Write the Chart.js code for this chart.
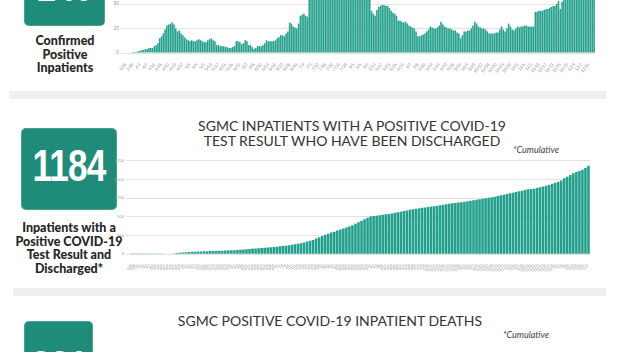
<!DOCTYPE html>
<html>
<head>
<meta charset="utf-8">
<script src="https://cdn.jsdelivr.net/npm/chart.js@4.4.1/dist/chart.umd.min.js"></script>
<style>
  html, body { margin: 0; padding: 0; background: #fff; }
  body { position: relative; width: 622px; height: 352px; overflow: hidden; font-family: 'Lato', 'Noto Sans', sans-serif; }
  .box { position: absolute; background: #1f8b79; border-radius: 5px; box-shadow: inset 0 0 0 1px rgba(255,255,255,.2); overflow: hidden; }
  .num { position: absolute; left: 0; right: 0; text-align: center; color: #fff; font-family: 'Liberation Sans Narrow', 'Liberation Sans', sans-serif; font-weight: 700; font-size: 44px; line-height: 44px; letter-spacing: -1px; transform: scaleX(0.8); }
  .lbl { position: absolute; text-align: center; font-weight: 900; color: #262626; font-size: 12.5px; line-height: 13.7px; }
  .title { position: absolute; text-align: center; color: #333; font-size: 14px; line-height: 15px; white-space: nowrap; }
  .cum { position: absolute; font-style: italic; color: #444; font-size: 9px; white-space: nowrap; }
  .divider { position: absolute; background: #efefef; height: 8px; }
  canvas { position: absolute; }
</style>
</head>
<body>

<!-- top panel (cut off) -->
<div class="box" style="left:24px; top:-60px; width:81px; height:86px;">
  <div class="num" style="top:23.5px;">140</div>
</div>
<div class="lbl" style="left:5px; width:120px; top:34px;">Confirmed<br>Positive<br>Inpatients</div>
<canvas id="topChart" width="510" height="125" style="left:100px; top:-50px;"></canvas>

<div class="divider" style="left:9px; top:91px; width:597px;"></div>

<!-- discharged panel -->
<div class="title" style="left:152px; width:400px; top:118px;">SGMC INPATIENTS WITH A POSITIVE COVID-19<br>TEST RESULT WHO HAVE BEEN DISCHARGED</div>
<div class="cum" style="left:513px; top:144px;">*Cumulative</div>
<div class="box" style="left:21px; top:128px; width:96px; height:82px;">
  <div class="num" style="top:16px;">1184</div>
</div>
<div class="lbl" style="left:9px; width:120px; top:221px;">Inpatients with a<br>Positive COVID-19<br>Test Result and<br>Discharged*</div>
<canvas id="midChart" width="500" height="122" style="left:100px; top:150px;"></canvas>

<div class="divider" style="left:13px; top:288px; width:593px;"></div>

<!-- deaths panel (cut off) -->
<div class="title" style="left:130px; width:400px; top:313px;">SGMC POSITIVE COVID-19 INPATIENT DEATHS</div>
<div class="cum" style="left:503px; top:329px;">*Cumulative</div>
<div class="box" style="left:24px; top:321px; width:69px; height:80px;">
  <div class="num" style="top:23.5px;">221</div>
</div>

<script>
const TOP_START = '2020-03-26';
const MID_START = '2020-03-26';

// daily confirmed positive inpatients (values above ~53 are cut off in the picture)
const topCounts = [
  0, 0, 0, 0, 1, 1, 1, 2, 2, 3,
  3, 4, 4, 5, 5, 5, 7, 8, 10, 15,
  17, 20, 24, 28, 29, 30, 31, 29, 25, 22,
  23, 20, 18, 16, 14, 13, 12, 13, 12, 12,
  13, 14, 13, 12, 11, 11, 13, 14, 15, 13,
  12, 8, 8, 7, 7, 7, 6, 6, 5, 5,
  6, 7, 12, 12, 11, 9, 10, 13, 12, 8,
  8, 6, 4, 5, 7, 7, 7, 8, 10, 13,
  12, 12, 12, 12, 13, 15, 16, 18, 18, 17,
  20, 22, 31, 30, 27, 26, 25, 30, 38, 39,
  40, 38, 37, 55, 62, 66, 70, 72, 75, 78,
  80, 82, 85, 84, 86, 88, 90, 88, 87, 85,
  83, 82, 80, 78, 76, 74, 72, 70, 68, 66,
  64, 62, 60, 58, 56, 58, 56, 55, 43, 40,
  38, 44, 47, 48, 49, 49, 48, 48, 46, 43,
  41, 40, 38, 33, 33, 32, 31, 32, 30, 28,
  27, 26, 25, 22, 17, 17, 18, 19, 20, 22,
  24, 27, 26, 25, 25, 26, 28, 32, 29, 27,
  26, 25, 25, 24, 23, 23, 21, 20, 15, 18,
  22, 22, 23, 23, 25, 28, 32, 30, 27, 26,
  25, 25, 24, 22, 20, 20, 20, 20, 21, 21,
  24, 27, 24, 22, 25, 30, 27, 24, 23, 25,
  27, 26, 27, 27, 28, 28, 27, 27, 27, 27,
  42, 42, 43, 43, 43, 44, 45, 45, 46, 47,
  48, 48, 50, 53, 45, 52, 56, 58, 60, 62,
  64, 66, 68, 70, 72, 74, 76, 78, 80, 82, 84, 86, 88, 90
];

// cumulative discharged inpatients
const midCumulative = [
  1, 1, 1, 2, 2, 2, 3, 3, 4, 5,
  5, 6, 7, 9, 12, 16, 22, 25, 28, 31,
  33, 35, 37, 38, 40, 41, 43, 44, 46, 47,
  49, 50, 52, 53, 55, 58, 61, 64, 68, 72,
  76, 79, 82, 85, 88, 91, 94, 98, 102, 106,
  110, 115, 120, 127, 134, 140, 147, 158, 170, 181,
  192, 210, 228, 245, 260, 275, 290, 303, 318, 332,
  345, 358, 370, 390, 410, 428, 445, 468, 488, 504,
  512, 517, 523, 528, 534, 539, 547, 555, 562, 570,
  578, 586, 594, 602, 608, 614, 621, 627, 633, 639,
  644, 650, 655, 662, 669, 676, 682, 687, 692, 697,
  703, 708, 715, 722, 728, 735, 742, 749, 757, 764,
  771, 779, 788, 797, 806, 815, 824, 833, 842, 851,
  860, 869, 874, 878, 888, 898, 908, 918, 927, 942,
  956, 970, 985, 1016, 1038, 1060, 1083, 1100, 1115, 1130,
  1155, 1184
];

const topYMax = 100, topYStep = 25;
const midYMax = 1250, midYStep = 250;

const BAR = '#23a08b';
const GRID = '#e2e2e2';
const TICK = '#9a9a9a';

function dayLabels(start, count, step) {
  const out = [];
  const d = new Date(start + 'T00:00:00');
  for (let i = 0; i < count; i++) {
    out.push((d.getMonth() + 1) + '/' + d.getDate());
    d.setDate(d.getDate() + step);
  }
  return out;
}

function barChart(id, labels, data, o) {
  return new Chart(document.getElementById(id), {
    type: 'bar',
    data: {
      labels: labels,
      datasets: [{ data: data, backgroundColor: BAR, barPercentage: 0.86, categoryPercentage: 1 }],
    },
    options: {
      responsive: false,
      animation: false,
      layout: { padding: o.padding },
      plugins: { legend: { display: false }, tooltip: { enabled: false } },
      scales: {
        x: {
          grid: { display: false },
          border: { display: false },
          ticks: {
            color: TICK,
            font: { size: o.xFont },
            autoSkip: false,
            minRotation: 50,
            maxRotation: 50,
            padding: 1,
            callback: function (v, i) { return i % o.every === 0 ? this.getLabelForValue(v) : null; },
          },
          afterFit: (s) => { s.height = o.xHeight; s.paddingLeft = 0; s.paddingRight = 0; },
        },
        y: {
          min: 0,
          max: o.max,
          grid: { color: GRID, tickLength: 4 },
          border: { display: false },
          ticks: { stepSize: o.step, color: TICK, font: { size: o.yFont }, padding: 2 },
          afterFit: (s) => { s.width = o.yWidth; },
        },
      },
    },
  });
}

barChart('topChart', dayLabels(TOP_START, topCounts.length, 1), topCounts, {
  padding: { top: 3, right: 15, bottom: 0, left: 0 },
  max: topYMax, step: topYStep, xFont: 4.5, yFont: 5, xHeight: 22, yWidth: 25, every: 4,
});

barChart('midChart', dayLabels(MID_START, midCumulative.length, 2), midCumulative, {
  padding: { top: 10.8, right: 10, bottom: 0, left: 0 },
  max: midYMax, step: midYStep, xFont: 3.5, yFont: 4, xHeight: 17.7, yWidth: 30, every: 1,
});
</script>
</body>
</html>
